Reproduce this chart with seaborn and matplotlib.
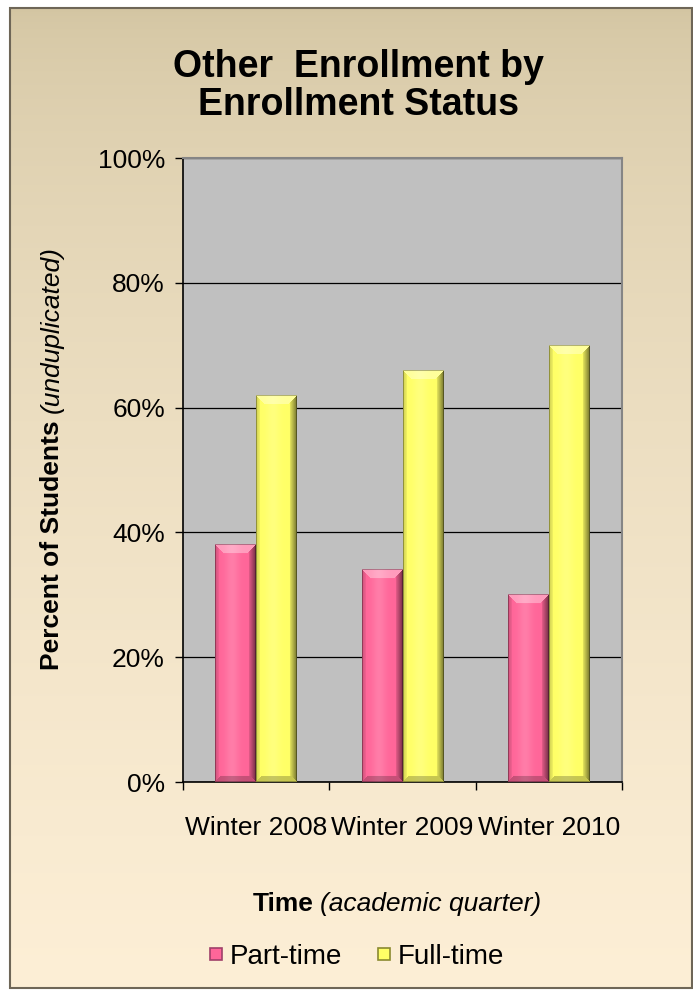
import numpy as np
import pandas as pd
import matplotlib
matplotlib.use("Agg")
import matplotlib.pyplot as plt
import seaborn as sns
from matplotlib.colors import to_rgb
from matplotlib.ticker import PercentFormatter, FixedLocator, NullFormatter
from matplotlib.lines import Line2D
from matplotlib.patches import Rectangle

# Data
terms = ['Winter 2008', 'Winter 2009', 'Winter 2010']
statuses = ['Part-time', 'Full-time']
part_time = [0.38, 0.34, 0.30]
full_time = [0.62, 0.66, 0.70]
colors = ['#FF6699', '#FFFF66']

df = pd.DataFrame({
    'term': terms * 2,
    'status': [statuses[0]] * 3 + [statuses[1]] * 3,
    'pct': part_time + full_time,
})

sns.set_theme(style='white')
plt.rcParams['font.family'] = ['Liberation Sans', 'DejaVu Sans']

W, H = 693, 990
fig = plt.figure(figsize=(W / 100, H / 100), dpi=100, facecolor='white')


def fx(px):
    return px / W


def fy(py):
    return 1 - py / H


# background panel with vertical gradient
bg = fig.add_axes([0, 0, 1, 1], zorder=0)
top_c = np.array(to_rgb('#D3C5A2'))
bot_c = np.array(to_rgb('#FDEFD6'))
t = np.linspace(0, 1, 256) ** 0.6
grad = (top_c[None, :] * (1 - t[:, None]) + bot_c[None, :] * t[:, None])[:, None, :]
bg.imshow(grad, extent=(10, 692, 988, 8), aspect='auto', interpolation='bilinear')
bg.add_patch(Rectangle((10, 8), 682, 980, fill=False, ec='#6E6657', lw=1.5))
bg.set_xlim(0, W)
bg.set_ylim(H, 0)
bg.axis('off')

ax = fig.add_axes([fx(183), fy(782), (622 - 183) / W, (782 - 158) / H], zorder=1)
ax.set_facecolor('#C0C0C0')

sns.barplot(data=df, x='term', y='pct', hue='status', hue_order=statuses,
            palette=colors, saturation=1, width=0.56, ax=ax, legend=False,
            edgecolor='none', zorder=3)


def bevel(ax, bar, base, px_per_unit=624):
    # fake the Excel bevel look with a shaded image laid over each bar
    x0, y0 = bar.get_x(), bar.get_y()
    w, h = bar.get_width(), bar.get_height()
    nx = 41
    ny = max(int(round(h * px_per_unit)), 20)
    X, Y = np.meshgrid(np.arange(nx) + 0.5, np.arange(ny) + 0.5)
    dl, dr, db, dt = X, nx - X, Y, ny - Y
    col = np.broadcast_to(base, (ny, nx, 3)).copy()
    # soft vertical highlight on the face
    hl = np.exp(-((X - nx * 0.42) / 7.0) ** 2) * 0.15
    col = col + (1 - col) * hl[..., None]
    bt, bb, bl, br = 9, 6, 4, 7
    m = np.minimum.reduce([dl, dr, db, dt])
    top = (dt < bt) & (dt <= np.minimum(dl, dr) + 0.5)
    bot = (db < bb) & (db <= np.minimum(dl, dr) + 0.5) & ~top
    left = (dl < bl) & ~top & ~bot
    right = (dr < br) & ~top & ~bot
    col[top] = col[top] + (1 - col[top]) * 0.35
    col[bot] = col[bot] * 0.78
    col[left] = col[left] * (0.8 + 0.15 * (dl[left] / bl))[:, None]
    col[right] = col[right] * (0.45 + 0.45 * (dr[right] / br))[:, None]
    edge = m < 1
    col[edge] = col[edge] * 0.7
    ax.imshow(np.clip(col, 0, 1), extent=(x0, x0 + w, y0, y0 + h), origin='lower',
              aspect='auto', interpolation='bilinear', zorder=4)


for cont, c in zip(ax.containers, colors):
    for bar in cont:
        bevel(ax, bar, np.array(to_rgb(c)))

ax.set_xlim(-0.5, 2.5)
ax.set_ylim(0, 1)

# axes styling
ax.yaxis.set_major_locator(FixedLocator([0, 0.2, 0.4, 0.6, 0.8, 1.0]))
ax.yaxis.set_major_formatter(PercentFormatter(1.0, decimals=0))
ax.grid(axis='y', color='black', lw=0.9, zorder=1)
ax.set_axisbelow(True)
ax.xaxis.set_major_locator(FixedLocator([-0.5, 0.5, 1.5, 2.5]))
ax.xaxis.set_major_formatter(NullFormatter())
ax.xaxis.set_minor_locator(FixedLocator([0, 1, 2]))
ax.set_xticklabels(terms, minor=True)
ax.tick_params(axis='x', which='major', direction='out', length=6, width=1, color='black', bottom=True)
ax.tick_params(axis='x', which='minor', length=0, pad=24.5, labelsize=19, labelcolor='black', bottom=True)
ax.tick_params(axis='y', direction='out', length=6, width=1, color='black', pad=7,
               labelsize=19, labelcolor='black', left=True)
for s in ['left', 'bottom']:
    ax.spines[s].set_color('black')
    ax.spines[s].set_linewidth(1.2)
for s in ['top', 'right']:
    ax.spines[s].set_color('#858585')
    ax.spines[s].set_linewidth(1.5)
ax.set_xlabel('')
ax.set_ylabel('')

# titles and axis labels
fig.text(fx(358), fy(86), 'Other  Enrollment by\nEnrollment Status', ha='center',
         va='center', fontsize=27, fontweight='bold', linespacing=1.1, color='black')

renderer = fig.canvas.get_renderer()


def mixed_label(x_px, y_px, parts, rotation=0, size=19, gap=7):
    widths = []
    for txt, style in parts:
        tmp = fig.text(0, 0, txt, fontsize=size, **style)
        widths.append(tmp.get_window_extent(renderer).width)
        tmp.remove()
    pos = -(sum(widths) + gap * (len(parts) - 1)) / 2
    for (txt, style), w in zip(parts, widths):
        if rotation == 0:
            fig.text(fx(x_px + pos), fy(y_px), txt, ha='left', va='baseline',
                     fontsize=size, color='black', **style)
        else:
            fig.text(fx(x_px), fy(y_px - pos), txt, ha='left', va='baseline',
                     rotation=90, rotation_mode='anchor', fontsize=size,
                     color='black', **style)
        pos += w + gap


mixed_label(59, 458, [('Percent of Students', {'fontweight': 'bold'}),
                      ('(unduplicated)', {'fontstyle': 'italic'})], rotation=90)
mixed_label(397, 911, [('Time', {'fontweight': 'bold'}),
                       ('(academic quarter)', {'fontstyle': 'italic'})])

handles = [Line2D([], [], ls='none', marker='s', markersize=9, markerfacecolor=c,
                  markeredgecolor=ec, markeredgewidth=1.2)
           for c, ec in zip(colors, ['#A0406A', '#8A8A30'])]
leg = fig.legend(handles, statuses, loc='center', bbox_to_anchor=(fx(357), fy(957)), ncol=2,
                 frameon=False, fontsize=20, handlelength=0.45, handletextpad=0.25,
                 columnspacing=1.3, borderaxespad=0)
for txt in leg.get_texts():
    txt.set_color('black')

fig.savefig('out.png', dpi=100)
